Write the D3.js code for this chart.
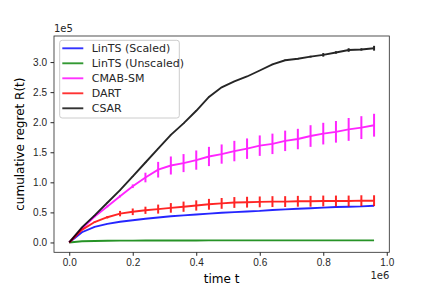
<!DOCTYPE html>
<html>
<head>
<meta charset="utf-8">
<script src="https://cdn.jsdelivr.net/npm/d3@7"></script>
<style>
  body { margin: 0; background: #fff; }
  svg { display: block; font-family: "DejaVu Sans", sans-serif; }
  .axis text { font-size: 10px; fill: #262626; }
  .axis path, .axis line { stroke: #262626; }
</style>
</head>
<body>
<svg id="chart"></svg>
<script>
// time steps (x 1e6) and cumulative regret (x 1e5)
const tVals = [0, 0.04, 0.08, 0.12, 0.16, 0.20, 0.24, 0.28, 0.32, 0.36, 0.40, 0.44, 0.48,
               0.52, 0.56, 0.60, 0.64, 0.68, 0.72, 0.76, 0.80, 0.84, 0.88, 0.92, 0.96];

const lintsScaled = [0, 0.17, 0.26, 0.31, 0.345, 0.37, 0.395, 0.415, 0.435, 0.45, 0.465, 0.48, 0.495,
                     0.505, 0.515, 0.525, 0.54, 0.55, 0.56, 0.57, 0.58, 0.59, 0.595, 0.60, 0.61];
const lintsScaledErr = [0, 0.003, 0.003, 0.003, 0.003, 0.003, 0.003, 0.003, 0.003, 0.003, 0.003, 0.003, 0.003,
                        0.003, 0.003, 0.003, 0.003, 0.003, 0.003, 0.003, 0.003, 0.003, 0.003, 0.003, 0.003];

const lintsUnscaled = [0, 0.02, 0.025, 0.028, 0.03, 0.031, 0.032, 0.032, 0.033, 0.033, 0.033, 0.034, 0.034,
                       0.034, 0.034, 0.034, 0.034, 0.035, 0.035, 0.035, 0.035, 0.035, 0.035, 0.035, 0.035];
const lintsUnscaledErr = [0, 0, 0, 0, 0, 0, 0, 0, 0, 0, 0, 0, 0, 0, 0, 0, 0, 0, 0, 0, 0, 0, 0, 0, 0];

const cmabSm = [0, 0.23, 0.43, 0.60, 0.77, 0.935, 1.08, 1.21, 1.28, 1.32, 1.37, 1.43, 1.47,
                1.52, 1.56, 1.61, 1.64, 1.69, 1.72, 1.77, 1.81, 1.84, 1.88, 1.91, 1.95];
const cmabSmErr = [0, 0.005, 0.01, 0.015, 0.02, 0.03, 0.08, 0.13, 0.15, 0.15, 0.16, 0.16, 0.16,
                   0.17, 0.17, 0.17, 0.17, 0.17, 0.17, 0.18, 0.18, 0.18, 0.19, 0.19, 0.19];

const dart = [0, 0.21, 0.34, 0.42, 0.48, 0.51, 0.535, 0.555, 0.575, 0.595, 0.615, 0.635, 0.65,
              0.665, 0.67, 0.675, 0.68, 0.68, 0.685, 0.685, 0.69, 0.69, 0.69, 0.695, 0.695];
const dartErr = [0, 0.005, 0.01, 0.02, 0.045, 0.055, 0.06, 0.075, 0.08, 0.085, 0.085, 0.09, 0.09,
                 0.09, 0.09, 0.09, 0.09, 0.09, 0.09, 0.09, 0.09, 0.09, 0.09, 0.09, 0.09];

const csar = [0, 0.25, 0.45, 0.66, 0.87, 1.10, 1.33, 1.56, 1.79, 1.98, 2.19, 2.42, 2.58,
              2.68, 2.76, 2.86, 2.96, 3.03, 3.055, 3.09, 3.12, 3.16, 3.20, 3.21, 3.23];
const csarErr = [0, 0.005, 0.005, 0.005, 0.005, 0.005, 0.005, 0.005, 0.005, 0.005, 0.005, 0.005, 0.005,
                 0.005, 0.005, 0.005, 0.01, 0.01, 0.01, 0.015, 0.03, 0.02, 0.03, 0.02, 0.04];

const seriesNames = ["LinTS (Scaled)", "LinTS (Unscaled)", "CMAB-SM", "DART", "CSAR"];
const seriesColors = ["#0000ff", "#008000", "#ff00ff", "#ff0000", "#000000"];
const seriesValues = [lintsScaled, lintsUnscaled, cmabSm, dart, csar];
const seriesErrors = [lintsScaledErr, lintsUnscaledErr, cmabSmErr, dartErr, csarErr];

const xTicks = [0, 0.2, 0.4, 0.6, 0.8, 1.0];
const yTicks = [0, 0.5, 1.0, 1.5, 2.0, 2.5, 3.0];

const width = 432, height = 288;
const margin = {top: 36, right: 42.7, bottom: 35.7, left: 54};
const innerW = width - margin.left - margin.right;
const innerH = height - margin.top - margin.bottom;

const svg = d3.select('#chart')
    .attr('width', width)
    .attr('height', height);

const chart = svg.append('g')
    .attr('transform', `translate(${margin.left},${margin.top})`);

// matplotlib style 5% padding on both axes
const series = seriesNames.map((name, i) => ({
  name: name,
  color: seriesColors[i],
  points: tVals.map((t, j) => ({t: t, v: seriesValues[i][j], e: seriesErrors[i][j]}))
}));
const allPts = series.flatMap(s => s.points);
const xExt = d3.extent(tVals);
const yExt = [d3.min(allPts, d => d.v - d.e), d3.max(allPts, d => d.v + d.e)];
const xPad = (xExt[1] - xExt[0]) * 0.05;
const yPad = (yExt[1] - yExt[0]) * 0.05;

const xScale = d3.scaleLinear()
    .domain([xExt[0] - xPad, xExt[1] + xPad])
    .range([0, innerW]);
const yScale = d3.scaleLinear()
    .domain([yExt[0] - yPad, yExt[1] + yPad])
    .range([innerH, 0]);

const xAxis = d3.axisBottom(xScale)
    .tickValues(xTicks)
    .tickFormat(d3.format('.1f'))
    .tickSize(3.5)
    .tickPadding(3.5);
const yAxis = d3.axisLeft(yScale)
    .tickValues(yTicks)
    .tickFormat(d3.format('.1f'))
    .tickSize(3.5)
    .tickPadding(3.5);

chart.append('g')
    .attr('class', 'axis x-axis')
    .attr('transform', `translate(0,${innerH})`)
    .call(xAxis)
    .call(g => g.select('.domain').remove());
chart.append('g')
    .attr('class', 'axis y-axis')
    .call(yAxis)
    .call(g => g.select('.domain').remove());

const line = d3.line()
    .x(d => xScale(d.t))
    .y(d => yScale(d.v));

const seriesG = chart.selectAll('.series')
    .data(series)
    .join('g')
    .attr('class', 'series')
    .attr('opacity', 0.85);

seriesG.append('path')
    .attr('fill', 'none')
    .attr('stroke', d => d.color)
    .attr('stroke-width', 1.9)
    .attr('d', d => line(d.points));

seriesG.selectAll('.err')
    .data(d => d.points.filter(p => p.e > 0).map(p => ({...p, color: d.color})))
    .join('line')
    .attr('class', 'err')
    .attr('x1', d => xScale(d.t))
    .attr('x2', d => xScale(d.t))
    .attr('y1', d => yScale(d.v - d.e))
    .attr('y2', d => yScale(d.v + d.e))
    .attr('stroke', d => d.color)
    .attr('stroke-width', 2);

// frame
chart.append('rect')
    .attr('width', innerW)
    .attr('height', innerH)
    .attr('fill', 'none')
    .attr('stroke', '#262626')
    .attr('stroke-width', 0.8);

// offset labels
chart.append('text')
    .attr('x', 0)
    .attr('y', -4)
    .attr('font-size', 10)
    .attr('fill', '#262626')
    .text('1e5');
chart.append('text')
    .attr('x', innerW)
    .attr('y', innerH + 27)
    .attr('text-anchor', 'end')
    .attr('font-size', 10)
    .attr('fill', '#262626')
    .text('1e6');

// axis titles
chart.append('text')
    .attr('x', innerW / 2)
    .attr('y', innerH + 31)
    .attr('text-anchor', 'middle')
    .attr('font-size', 12)
    .attr('fill', '#000')
    .text('time t');
chart.append('text')
    .attr('transform', `translate(${-30},${innerH / 2}) rotate(-90)`)
    .attr('text-anchor', 'middle')
    .attr('font-size', 12)
    .attr('fill', '#000')
    .text('cumulative regret R(t)');

// legend
const legend = chart.append('g')
    .attr('transform', 'translate(5.7,4.3)');
legend.append('rect')
    .attr('width', 119.6)
    .attr('height', 77.7)
    .attr('rx', 2.5)
    .attr('fill', '#fff')
    .attr('fill-opacity', 0.8)
    .attr('stroke', '#ccc')
    .attr('stroke-width', 1);
const items = legend.selectAll('.item')
    .data(series)
    .join('g')
    .attr('class', 'item')
    .attr('transform', (d, i) => `translate(0,${8 + i * 15})`);
items.append('line')
    .attr('x1', 2.6)
    .attr('x2', 23.6)
    .attr('stroke', d => d.color)
    .attr('stroke-opacity', 0.8)
    .attr('stroke-width', 1.9);
items.append('text')
    .attr('x', 32)
    .attr('y', 4)
    .attr('font-size', 11)
    .attr('fill', '#262626')
    .text(d => d.name);
</script>
</body>
</html>
